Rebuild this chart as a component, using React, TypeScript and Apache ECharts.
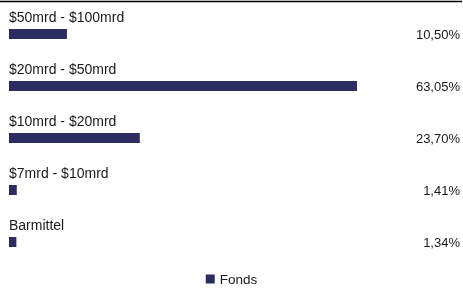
import React, { useEffect, useRef } from "react";
import * as echarts from "echarts";

const categories = ["$50mrd - $100mrd", "$20mrd - $50mrd", "$10mrd - $20mrd", "$7mrd - $10mrd", "Barmittel"];
const values = [10.5, 63.05, 23.7, 1.41, 1.34];
const valueLabels = ["10,50%", "63,05%", "23,70%", "1,41%", "1,34%"];
const seriesName = "Fonds";

export default function App() {
  const ref = useRef<HTMLDivElement>(null);
  useEffect(() => {
    const chart = echarts.init(ref.current!, null, { renderer: "svg" });
    const font = "Liberation Sans, Arial, sans-serif";
    chart.setOption({
      animation: false,
      textStyle: { fontFamily: font },
      grid: { left: 9, top: 8, width: 353, height: 260, containLabel: false },
      xAxis: {
        type: "value",
        min: 0,
        max: 63.05,
        show: false,
      },
      yAxis: [
        {
          type: "category",
          data: categories,
          inverse: true,
          show: false,
        },
        {
          type: "category",
          data: valueLabels,
          inverse: true,
          position: "right",
          axisLine: { show: false },
          axisTick: { show: false },
          splitLine: { show: false },
          axisLabel: {
            align: "right",
            margin: 103,
            color: "#1a1a1a",
            fontSize: 13,
            fontFamily: font,
          },
        },
      ],
      legend: {
        bottom: 3,
        padding: 0,
        left: "center",
        icon: "rect",
        itemWidth: 9,
        itemHeight: 9,
        itemGap: 8,
        textStyle: { color: "#1a1a1a", fontSize: 13.5, fontFamily: font },
        data: [seriesName],
      },
      series: [
        {
          name: seriesName,
          type: "bar",
          data: values,
          barWidth: 10,
          itemStyle: { color: "#2b2c5f" },
          label: {
            show: true,
            position: [0, -12],
            align: "left",
            verticalAlign: "middle",
            formatter: (p: any) => categories[p.dataIndex],
            color: "#1a1a1a",
            fontSize: 14,
            fontFamily: font,
          },
        },
      ],
      graphic: [
        {
          type: "line",
          shape: { x1: 0, y1: 1.5, x2: 462, y2: 1.5 },
          style: { stroke: "#000", lineWidth: 1.5 },
        },
      ],
    });
    return () => chart.dispose();
  }, []);
  return (
    <div
      ref={ref}
      style={{ position: "fixed", left: 0, top: 0, width: 463, height: 289 }}
    />
  );
}
